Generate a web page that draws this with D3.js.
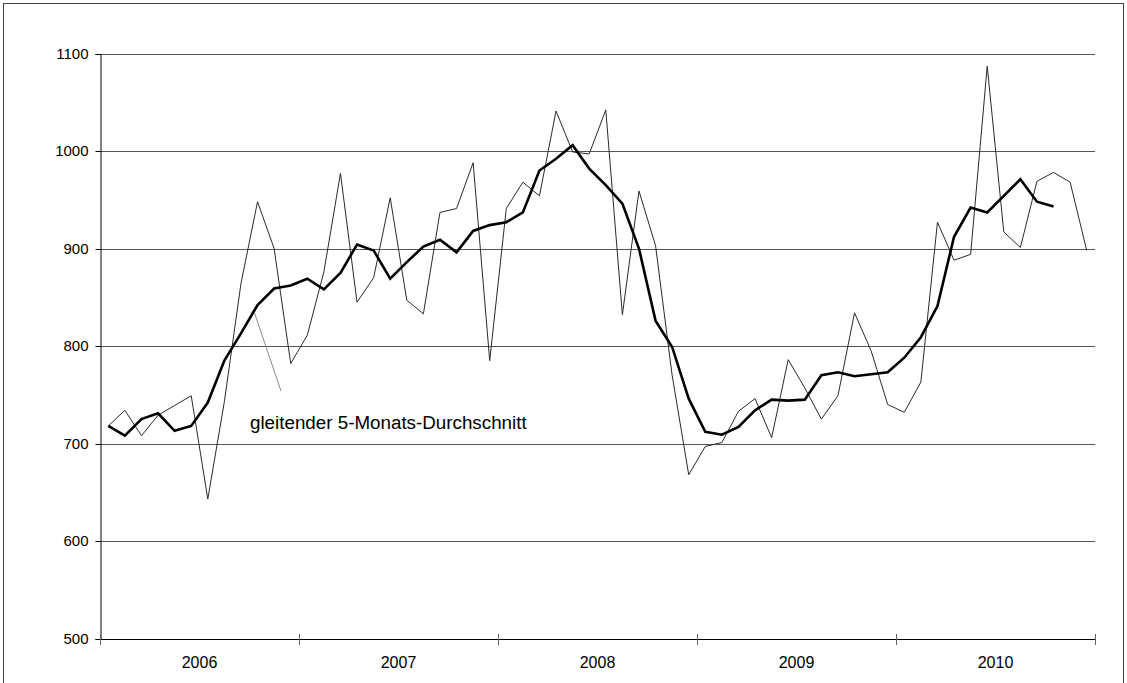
<!DOCTYPE html>
<html>
<head>
<meta charset="utf-8">
<script src="https://cdn.jsdelivr.net/npm/d3@7"></script>
<style>
  html, body { margin: 0; padding: 0; background: #fff; }
  svg { display: block; }
  text { font-family: "Liberation Sans", Arial, sans-serif; fill: #000; }
</style>
</head>
<body>
<svg id="chart" width="1127" height="683"></svg>
<script>
// Years (x-axis categories), 12 months each
const years = ["2006", "2007", "2008", "2009", "2010"];
// Y tick labels
const yTicks = [500, 600, 700, 800, 900, 1000, 1100];
// Monthly values Jan 2006 .. Dec 2010
const monthly = [
  718, 734, 708, 729, 739, 749, 643, 743, 864, 948, 900, 782,
  811, 876, 977, 845, 870, 952, 847, 833, 937, 941, 988, 785,
  941, 968, 954, 1041, 999, 997, 1042, 832, 959, 903, 770, 668,
  697, 701, 733, 746, 706, 786, 757, 725, 749, 834, 795, 740,
  732, 763, 927, 888, 894, 1087, 917, 901, 969, 978, 968, 898
];
// 5-month moving average (gleitender 5-Monats-Durchschnitt)
const movingAvg = [
  718, 708, 725, 731, 713, 718, 742, 785, 813, 842, 859, 862,
  869, 858, 875, 904, 898, 869, 886, 902, 909, 896, 918, 924,
  927, 937, 980, 992, 1006, 982, 965, 946, 900, 826, 799, 746,
  712, 709, 717, 734, 745, 744, 745, 770, 773, 769, 771, 773,
  788, 809, 841, 912, 942, 937, 954, 971, 948, 943
];
const annotation = "gleitender 5-Monats-Durchschnitt";

const svg = d3.select("#chart");

// frame
svg.append("rect")
  .attr("x", 3.5).attr("y", 3.5)
  .attr("width", 1120).attr("height", 700)
  .attr("fill", "none").attr("stroke", "#444").attr("stroke-width", 1);

const x = d3.scaleLinear().domain([0, years.length * 12]).range([100, 1095]);
const y = d3.scaleLinear().domain([500, 1100]).range([638.5, 53.5]);

// gridlines
svg.append("g")
  .selectAll("line")
  .data(yTicks.filter(d => d > 500))
  .join("line")
  .attr("x1", 100).attr("x2", 1095)
  .attr("y1", d => Math.round(y(d)) + 0.5).attr("y2", d => Math.round(y(d)) + 0.5)
  .attr("stroke", "#555").attr("stroke-width", 1);

// y axis
const yAxis = d3.axisLeft(y).tickValues(yTicks).tickSize(5).tickPadding(7).tickFormat(d3.format("d"));
const gy = svg.append("g").attr("transform", "translate(100.5,0.5)").call(yAxis);
gy.select(".domain").attr("stroke", "#000");
gy.selectAll(".tick line").attr("stroke", "#000");
gy.selectAll(".tick text").style("font-size", "15px").style("font-family", "Liberation Sans, Arial, sans-serif");
gy.selectAll(".tick").attr("transform", d => `translate(0,${Math.round(y(d))})`);

// x axis line
svg.append("line")
  .attr("x1", 100).attr("x2", 1095)
  .attr("y1", Math.round(y(500)) + 0.5).attr("y2", Math.round(y(500)) + 0.5)
  .attr("stroke", "#000");
// year boundary ticks (crossing)
svg.append("g").selectAll("line")
  .data(d3.range(years.length + 1))
  .join("line")
  .attr("x1", d => Math.round(x(d * 12)) + 0.5).attr("x2", d => Math.round(x(d * 12)) + 0.5)
  .attr("y1", Math.round(y(500)) - 5).attr("y2", Math.round(y(500)) + 6)
  .attr("stroke", "#666");
// year labels
svg.append("g").selectAll("text")
  .data(years)
  .join("text")
  .attr("x", (d, i) => x(i * 12 + 6))
  .attr("y", 668)
  .attr("text-anchor", "middle")
  .style("font-size", "16px")
  .text(d => d);

// lines
const line = d3.line().x((d, i) => x(i + 0.5)).y(d => y(d));

svg.append("path")
  .datum(monthly)
  .attr("d", line)
  .attr("fill", "none")
  .attr("stroke", "#2a2a2a")
  .attr("stroke-width", 1);

svg.append("path")
  .datum(movingAvg)
  .attr("d", line)
  .attr("fill", "none")
  .attr("stroke", "#000")
  .attr("stroke-width", 2.6)
  .attr("stroke-linejoin", "miter");

// annotation leader line from moving-average point (Oct 2006)
svg.append("line")
  .attr("x1", x(9.5) - 3).attr("y1", y(movingAvg[9]) + 8)
  .attr("x2", 281).attr("y2", 391)
  .attr("stroke", "#888").attr("stroke-width", 1);

svg.append("text")
  .attr("x", 250).attr("y", 429)
  .style("font-size", "18.8px")
  .text(annotation);
</script>
</body>
</html>
